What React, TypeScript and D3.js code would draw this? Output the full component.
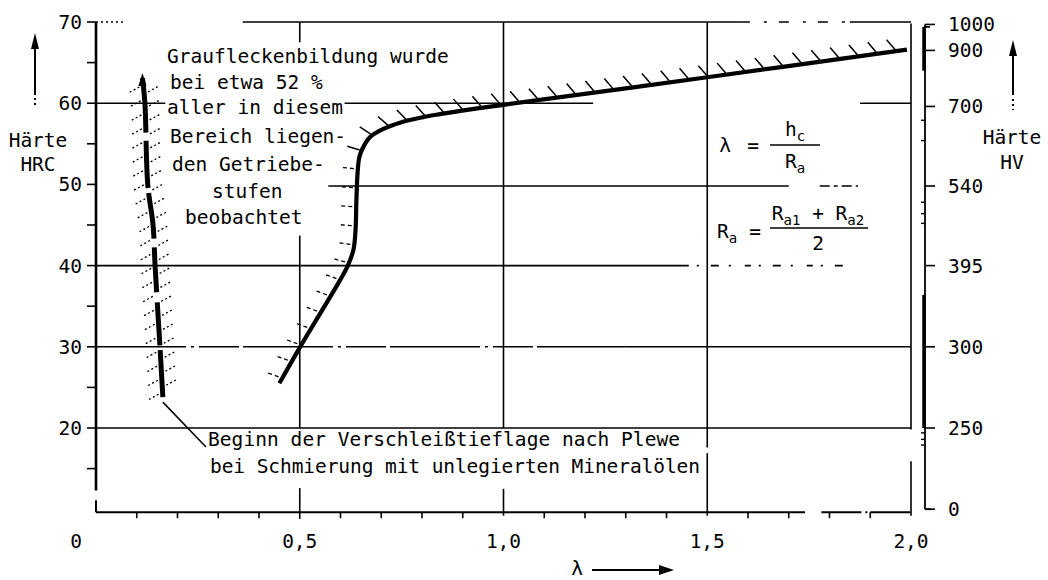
import React, { useEffect, useRef } from "react";
import * as d3 from "d3";

// ---- data ----
const hrcTicks = [70, 60, 50, 40, 30, 20];
const hrcMinor = [65, 55, 45, 35, 25, 15];
const lambdaTicks = [0, 0.5, 1, 1.5, 2];
const lambdaLabels = ["0", "0,5", "1,0", "1,5", "2,0"];
const lambdaMinor = [0.1, 0.2, 0.3, 0.4, 0.6, 0.7, 0.8, 0.9, 1.1, 1.2, 1.3, 1.4, 1.6, 1.7, 1.8, 1.9];
const hvLabels = ["1000", "900", "700", "540", "395", "300", "250", "0"];
const hvAtHrc = [69.7, 66.5, 59.6, 49.8, 40, 30, 20, 10];
const hvMinorAtHrc = [57.9, 55.4, 47.8, 46.4, 45.2, 19.4, 18.6, 17.9];

// Graufleckenbildung boundary (right curve)
const greyLambda = [0.45, 0.5, 0.6, 0.618, 0.632, 0.637, 0.639, 0.642, 0.646, 0.653, 0.672, 0.704, 0.746, 0.8, 0.844, 0.94, 1.0, 1.5, 1.99];
const greyHrc = [25.5, 29.9, 38.3, 40, 42, 44.5, 48, 51.5, 53.3, 54.3, 55.8, 56.8, 57.6, 58.25, 58.65, 59.4, 59.8, 63.2, 66.6];

// Beginn der Verschleißtieflage nach Plewe (left curve), top to bottom
const wearLambda = [0.114, 0.12, 0.127, 0.14, 0.145, 0.157, 0.164];
const wearHrc = [63.1, 60, 50, 45, 40, 30, 23.8];

const noteLines = [
  "Graufleckenbildung wurde",
  "bei etwa 52 %",
  "aller in diesem",
  "Bereich liegen-",
  "den Getriebe-",
  "stufen",
  "beobachtet",
];
const wearLabel = [
  "Beginn der Verschleißtieflage nach Plewe",
  "bei Schmierung mit unlegierten Mineralölen",
];

const FONT = "'DejaVu Sans Mono', 'Liberation Mono', monospace";
const FS = 19.5;

export default function App() {
  const hatchRef = useRef<SVGGElement | null>(null);
  const x = d3.scaleLinear().domain([0, 2]).range([96, 911]);
  const y = d3.scaleLinear().domain([20, 70]).range([428, 22]);
  const line = d3
    .line<[number, number]>()
    .x((d) => x(d[0]))
    .y((d) => y(d[1]))
    .curve(d3.curveCatmullRom.alpha(0.5));
  const greyPts = greyLambda.map((l, i) => [l, greyHrc[i]] as [number, number]);
  const wearPts = wearLambda.map((l, i) => [l, wearHrc[i]] as [number, number]);
  const greyD = line(greyPts) || "";
  const wearD = line(wearPts) || "";

  useEffect(() => {
    const g = d3.select(hatchRef.current);
    g.selectAll("*").remove();
    // right curve hatches
    const tmp = g.append("path").attr("d", greyD).attr("fill", "none");
    const node = tmp.node() as SVGPathElement;
    const L = node.getTotalLength();
    for (let s = 6; s < L - 4; s += 19) {
      const p = node.getPointAtLength(s);
      const a = node.getPointAtLength(Math.max(0, s - 1));
      const b = node.getPointAtLength(Math.min(L, s + 1));
      let tx = b.x - a.x, ty = b.y - a.y;
      const tl = Math.hypot(tx, ty) || 1;
      tx /= tl; ty /= tl;
      const nx = ty, ny = -tx;
      let dx = nx - 0.8, dy = ny - 0.1;
      const dl = Math.hypot(dx, dy);
      dx /= dl; dy /= dl;
      const dotted = p.y > y(54);
      g.append("line")
        .attr("x1", p.x + dx * (dotted ? 4 : 2))
        .attr("y1", p.y + dy * (dotted ? 4 : 2))
        .attr("x2", p.x + dx * 15)
        .attr("y2", p.y + dy * 15)
        .attr("stroke", "#000")
        .attr("stroke-width", dotted ? 1.3 : 1.5)
        .attr("stroke-dasharray", dotted ? "4 3" : null);
    }
    tmp.remove();
    // left curve hatches on both sides
    const tmp2 = g.append("path").attr("d", wearD).attr("fill", "none");
    const n2 = tmp2.node() as SVGPathElement;
    const L2 = n2.getTotalLength();
    for (let s = 8; s < L2 - 2; s += 14) {
      const p = n2.getPointAtLength(s);
      g.append("line")
        .attr("x1", p.x - 4).attr("y1", p.y + 1)
        .attr("x2", p.x - 15).attr("y2", p.y + 7)
        .attr("stroke", "#000").attr("stroke-width", 1.3)
        .attr("stroke-dasharray", "2 2.5");
      if (s + 7 < L2) {
        const q = n2.getPointAtLength(s + 7);
        g.append("line")
          .attr("x1", q.x + 4).attr("y1", q.y - 1)
          .attr("x2", q.x + 15).attr("y2", q.y - 7)
          .attr("stroke", "#000").attr("stroke-width", 1.3)
          .attr("stroke-dasharray", "2 2.5");
      }
    }
    tmp2.remove();
  }, [greyD, wearD]);

  const x0 = x(0);
  const x2 = x(2);
  const yAxis = y(9.63); // x-axis level
  const hvX = x2 + 14;
  const top = wearPts[0];
  const bottom = wearPts[wearPts.length - 1];
  const noteLayout = [
    [167, 57], [170, 83], [167, 108], [170, 137], [172, 165], [212, 192], [185, 218],
  ];
  const stroke = "#000";

  return (
    <svg
      width={1048}
      height={580}
      style={{ position: "absolute", left: 0, top: 0, background: "#fff" }}
      fontFamily={FONT}
    >
      <rect width={1048} height={580} fill="#fff" />

      {/* ---- grid ---- */}
      <g stroke={stroke} strokeWidth={1.6} fill="none">
        {/* top border */}
        <line x1={x0} x2={x0 + 27} y1={y(70)} y2={y(70)} strokeDasharray="2 3" />
        <line x1={x(0.36)} x2={x(1.58)} y1={y(70)} y2={y(70)} />
        <line x1={x(1.58)} x2={x(1.85)} y1={y(70)} y2={y(70)} strokeDasharray="10 14 3 12" />
        <line x1={x(1.85)} x2={x2} y1={y(70)} y2={y(70)} />
        {/* 60 */}
        <line x1={x0} x2={x(0.17)} y1={y(60)} y2={y(60)} />
        <line x1={x(0.61)} x2={x(1.22)} y1={y(60)} y2={y(60)} />
        <line x1={x(1.875)} x2={x2} y1={y(60)} y2={y(60)} />
        {/* 50 */}
        <line x1={x(0.57)} x2={x(1.7)} y1={y(49.8)} y2={y(49.8)} />
        <line x1={x(1.776)} x2={x(1.87)} y1={y(49.8)} y2={y(49.8)} strokeDasharray="10 4 4 4" />
        {/* 40 */}
        <line x1={x0} x2={x(1.44)} y1={y(40)} y2={y(40)} />
        <line x1={x(1.44)} x2={x(1.85)} y1={y(40)} y2={y(40)} strokeDasharray="6 8 2 12 8 10 2 14" />
        {/* 30 */}
        <line x1={x0} x2={x(1.3)} y1={y(30)} y2={y(30)} strokeDasharray="90 5 3 5 40 4" />
        <line x1={x(1.3)} x2={x2} y1={y(30)} y2={y(30)} />
        {/* 20 */}
        <line x1={x0} x2={x2} y1={y(20)} y2={y(20)} />
        {/* verticals */}
        <line x1={x(0.5)} x2={x(0.5)} y1={y(70)} y2={y(67.5)} />
        <line x1={x(0.5)} x2={x(0.5)} y1={y(43.7)} y2={y(20)} />
        <line x1={x(1)} x2={x(1)} y1={y(70)} y2={y(20)} />
        <line x1={x(1.5)} x2={x(1.5)} y1={y(70)} y2={y(17.6)} />
        <line x1={x(1.5)} x2={x(1.5)} y1={y(16.9)} y2={y(9.2)} />
        <line x1={x2} x2={x2} y1={y(69.8)} y2={y(19.8)} />
        <line x1={x2} x2={x2} y1={y(15.9)} y2={y(9.2)} />
        <line x1={x(0.5)} x2={x(0.5)} y1={y(12.6)} y2={y(8.8)} />
        <line x1={x(1)} x2={x(1)} y1={y(12.5)} y2={y(9.2)} />
      </g>

      {/* ---- left axis ---- */}
      <g stroke={stroke} fill="none">
        <line x1={x0} x2={x0} y1={y(70)} y2={y(12.3)} strokeWidth={2.6} />
        <line x1={x0} x2={x0} y1={y(11.1)} y2={yAxis} strokeWidth={2} />
        {hrcTicks.map((t) => (
          <line key={t} x1={x0 - 9} x2={x0} y1={y(t)} y2={y(t)} strokeWidth={1.6} />
        ))}
        {hrcMinor.map((t) => (
          <line key={t} x1={x0 - 9} x2={x0} y1={y(t)} y2={y(t)} strokeWidth={1.6} />
        ))}
        {/* x axis */}
        <line x1={x0} x2={x(1.74)} y1={yAxis} y2={yAxis} strokeWidth={2} />
        <line x1={x(1.78)} x2={x2} y1={yAxis} y2={yAxis} strokeWidth={2} strokeDasharray="40 4 2 3" />
        {lambdaMinor.map((t) => (
          <line key={t} x1={x(t)} x2={x(t)} y1={yAxis} y2={yAxis + 6} strokeWidth={1.6} />
        ))}
      </g>
      <g fontSize={FS} fill="#000">
        {hrcTicks.map((t) => (
          <text key={t} x={x0 - 14} y={y(t) + 7} textAnchor="end">{t}</text>
        ))}
        {lambdaTicks.map((t, i) => (
          <text key={t} x={x(t) - (i === 0 ? 20 : 0)} y={548} textAnchor="middle">{lambdaLabels[i]}</text>
        ))}
      </g>

      {/* ---- right HV axis ---- */}
      <g stroke={stroke} fill="none">
        <line x1={hvX} x2={hvX} y1={y(69.7)} y2={y(10)} strokeWidth={1.8} />
        <line x1={hvX} x2={hvX + 6} y1={y(10)} y2={y(10)} strokeWidth={1.8} />
        <line x1={hvX} x2={hvX + 5} y1={y(69.4)} y2={y(69.4)} strokeWidth={1.8} />
        <line x1={hvX - 1} x2={hvX - 1} y1={y(69.4)} y2={y(64)} strokeWidth={3.5} />
        <line x1={hvX - 1} x2={hvX - 1} y1={y(36.4)} y2={y(20)} strokeWidth={3.5} />
        {hvAtHrc.map((h, i) => (
          <line key={i} x1={hvX} x2={hvX + 10} y1={y(h)} y2={y(h)} strokeWidth={1.6} />
        ))}
        {hvMinorAtHrc.map((h, i) => (
          <line key={i} x1={hvX - 4} x2={hvX} y1={y(h)} y2={y(h)} strokeWidth={1.4} />
        ))}
      </g>
      <g fontSize={FS} fill="#000">
        {hvAtHrc.map((h, i) => (
          <text key={i} x={hvX + 23} y={y(h) + 7}>{hvLabels[i]}</text>
        ))}
      </g>

      {/* ---- axis titles ---- */}
      <g fill="#000" stroke="none" fontSize={FS}>
        <text x={38} y={147} textAnchor="middle">Härte</text>
        <text x={38} y={171} textAnchor="middle">HRC</text>
        <text x={1012} y={144} textAnchor="middle">Härte</text>
        <text x={1012} y={169} textAnchor="middle">HV</text>
        <text x={577} y={575} textAnchor="middle">λ</text>
      </g>
      <g stroke={stroke} strokeWidth={2}>
        <line x1={35} x2={35} y1={45} y2={95} />
        <line x1={35} x2={35} y1={98} y2={108} strokeDasharray="2 3" />
        <line x1={1013} x2={1013} y1={52} y2={95} />
        <line x1={1013} x2={1013} y1={99} y2={110} strokeDasharray="2 3" />
        <line x1={592} x2={662} y1={570} y2={570} />
      </g>
      <g fill="#000">
        <polygon points="35,33 31,49 39,49" />
        <polygon points="1013,40 1009,56 1017,56" />
        <polygon points="674,570 659,565 659,575" />
      </g>

      {/* ---- curves ---- */}
      <path d={greyD} fill="none" stroke="#000" strokeWidth={4.2} strokeLinejoin="round" />
      <path
        d={wearD}
        fill="none"
        stroke="#000"
        strokeWidth={5}
        strokeDasharray="55 8 47 5 46 9 45 10 43 5 47"
      />
      <polygon
        points={`${x(top[0])},${y(top[1]) - 5} ${x(top[0]) - 4},${y(top[1]) + 8} ${x(top[0]) + 4},${y(top[1]) + 8}`}
        fill="#000"
      />
      <g ref={hatchRef} />

      {/* leader line */}
      <line
        x1={x(bottom[0])}
        y1={y(bottom[1]) + 5}
        x2={206}
        y2={447}
        stroke="#000"
        strokeWidth={1.5}
      />

      {/* ---- texts ---- */}
      <g fill="#000" fontSize={FS}>
        {noteLines.map((t, i) => (
          <text key={i} x={noteLayout[i][0]} y={noteLayout[i][1] + 6}>{t}</text>
        ))}
        <text x={208} y={446} textLength={472} lengthAdjust="spacing">{wearLabel[0]}</text>
        <text x={210} y={473} textLength={490} lengthAdjust="spacing">{wearLabel[1]}</text>
      </g>

      {/* ---- formulas ---- */}
      <g fill="#000" fontSize={FS}>
        <text x={725} y={152} textAnchor="middle">λ</text>
        <text x={753} y={152} textAnchor="middle">=</text>
        <text x={795} y={136} textAnchor="middle">
          <tspan>h</tspan>
          <tspan dy={5} fontSize={14}>c</tspan>
        </text>
        <text x={795} y={168} textAnchor="middle">
          <tspan>R</tspan>
          <tspan dy={5} fontSize={14}>a</tspan>
        </text>
        <text x={717} y={238}>
          <tspan>R</tspan>
          <tspan dy={5} fontSize={14}>a</tspan>
        </text>
        <text x={755} y={238} textAnchor="middle">=</text>
        <text x={818} y={220} textAnchor="middle">
          <tspan>R</tspan>
          <tspan dy={5} fontSize={14}>a1</tspan>
          <tspan dy={-5}> + R</tspan>
          <tspan dy={5} fontSize={14}>a2</tspan>
        </text>
        <text x={818} y={250} textAnchor="middle">2</text>
      </g>
      <g stroke="#000" strokeWidth={1.6}>
        <line x1={770} x2={820} y1={145} y2={145} />
        <line x1={770} x2={868} y1={228} y2={228} />
      </g>
    </svg>
  );
}
